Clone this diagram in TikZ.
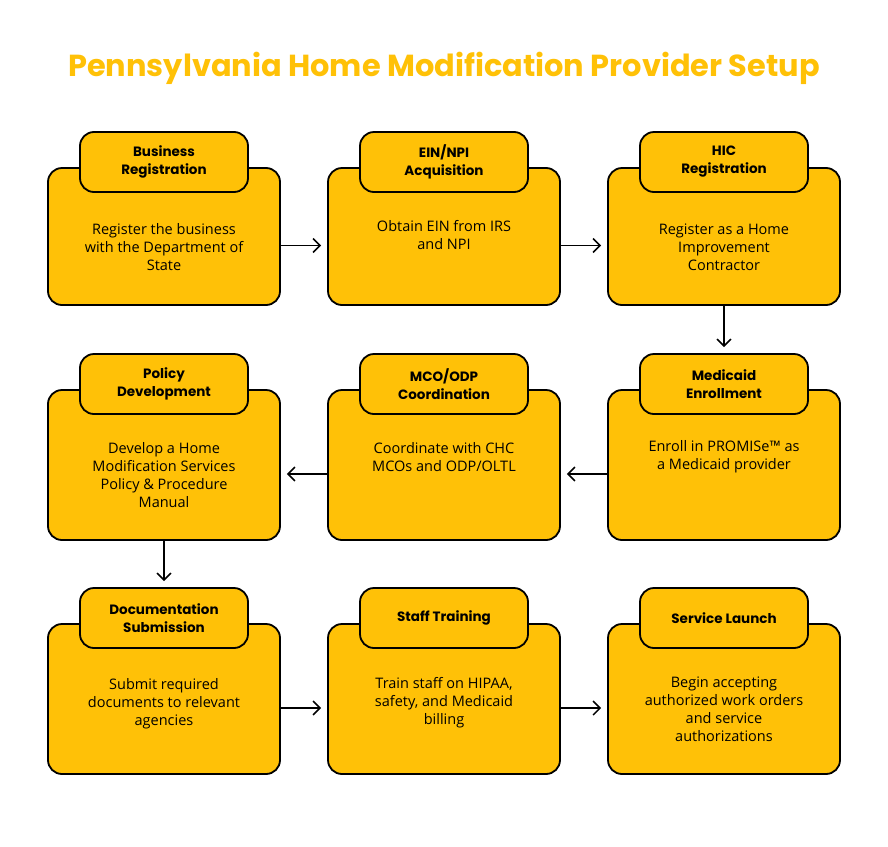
\documentclass[tikz,border=0pt]{standalone}
\usepackage{fontspec}
\setmainfont{Open Sans}
\newfontfamily\popp{Poppins}
\usetikzlibrary{arrows.meta,calc}
\definecolor{amber}{HTML}{FFC107}
\tikzset{
  mainbox/.style={draw=black, line width=1.8pt, fill=amber, rounded corners=14pt, minimum width=232pt, inner sep=0pt},
  headbox/.style={draw=black, line width=1.8pt, fill=amber, rounded corners=14pt, minimum width=168pt, minimum height=60pt, inner sep=0pt, align=center, font=\popp\bfseries\fontsize{13.5}{18}\selectfont},
  bodytext/.style={align=center, inner sep=0pt, font=\fontsize{14.5}{18}\selectfont},
  conn/.style={line width=1.5pt, -{Straight Barb[length=7pt,width=14pt,line width=1.5pt]}, shorten >=6pt},
}
\begin{document}
\begin{tikzpicture}[x=1pt,y=-1pt]
\path[use as bounding box, fill=white] (0,0) rectangle (888,846);
\node[font=\popp\bfseries\fontsize{30.4}{36}\selectfont, text=amber] (title) at (444,68) {Pennsylvania Home Modification Provider Setup};
% row 1
\node[mainbox, minimum height=137pt] (b1) at (164,236.5) {};
\node[mainbox, minimum height=137pt] (b2) at (444,236.5) {};
\node[mainbox, minimum height=137pt] (b3) at (724,236.5) {};
\node[headbox] (h1) at (164,162) {Business\\Registration};
\node[headbox] (h2) at (444,162) {EIN/NPI\\Acquisition};
\node[headbox] (h3) at (724,162) {HIC\\Registration};
\node[bodytext] (t1) at (164,247) {Register the business\\with the Department of\\State};
\node[bodytext] (t2) at (444,235) {Obtain EIN from IRS\\and NPI};
\node[bodytext] (t3) at (724,247) {Register as a Home\\Improvement\\Contractor};
% row 2
\node[mainbox, minimum height=150pt] (b4) at (164,465) {};
\node[mainbox, minimum height=150pt] (b5) at (444,465) {};
\node[mainbox, minimum height=150pt] (b6) at (724,465) {};
\node[headbox] (h4) at (164,384) {Policy\\Development};
\node[headbox] (h5) at (444,384) {MCO/ODP\\Coordination};
\node[headbox] (h6) at (724,384) {Medicaid\\Enrollment};
\node[bodytext] (t4) at (164,475) {Develop a Home\\Modification Services\\Policy \& Procedure\\Manual};
\node[bodytext] (t5) at (444,457) {Coordinate with CHC\\MCOs and ODP/OLTL};
\node[bodytext] (t6) at (724,457) {Enroll in PROMISe™ as\\a Medicaid provider};
% row 3
\node[mainbox, minimum height=150pt] (b7) at (164,699) {};
\node[mainbox, minimum height=150pt] (b8) at (444,699) {};
\node[mainbox, minimum height=150pt] (b9) at (724,699) {};
\node[headbox] (h7) at (164,618) {Documentation\\Submission};
\node[headbox] (h8) at (444,618) {Staff Training};
\node[headbox] (h9) at (724,618) {Service Launch};
\node[bodytext] (t7) at (164,704) {Submit required\\documents to relevant\\agencies};
\node[bodytext] (t8) at (444,703) {Train staff on HIPAA,\\safety, and Medicaid\\billing};
\node[bodytext] (t9) at (724,709) {Begin accepting\\authorized work orders\\and service\\authorizations};
% connectors
\draw[conn] ($(b1.east)+(0,9)$) -- ($(b2.west)+(0,9)$);
\draw[conn] ($(b2.east)+(0,9)$) -- ($(b3.west)+(0,9)$);
\draw[conn] (b3.south) -- (h6.north);
\draw[conn] ($(b6.west)+(0,9)$) -- ($(b5.east)+(0,9)$);
\draw[conn] ($(b5.west)+(0,9)$) -- ($(b4.east)+(0,9)$);
\draw[conn] (b4.south) -- (h7.north);
\draw[conn] ($(b7.east)+(0,9)$) -- ($(b8.west)+(0,9)$);
\draw[conn] ($(b8.east)+(0,9)$) -- ($(b9.west)+(0,9)$);
\end{tikzpicture}
\end{document}
